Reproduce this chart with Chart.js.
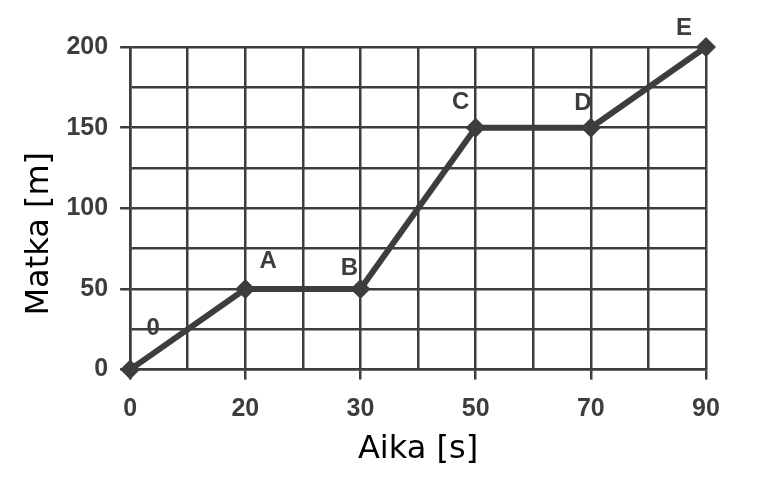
<!DOCTYPE html>
<html>
<head>
<meta charset="utf-8">
<script src="https://cdn.jsdelivr.net/npm/chart.js@4.4.1/dist/chart.umd.min.js"></script>
<style>
  html, body { margin: 0; padding: 0; background: #ffffff; }
  #wrap { width: 781px; height: 485px; }
</style>
</head>
<body>
<div id="wrap"><canvas id="c" width="781" height="485"></canvas></div>
<script>
// ---- data ----
const timeLabels = ['0', '20', '30', '50', '70', '90'];   // x tick labels (s)
const distances = [0, 50, 50, 150, 150, 200];             // distance (m)
const pointNames = ['0', 'A', 'B', 'C', 'D', 'E'];         // point letters
const yTickLabels = [0, 50, 100, 150, 200];

// ---- styles (label offsets in px relative to each point) ----
const nameOffsets = [[23, -41], [23, -28], [-11, -21], [-15, -25], [-8, -24], [-22, -19]];
const INK = '#3d3d3d';

const points = distances.map((d, i) => ({ x: i * 2, y: d }));

const pointNamePlugin = {
  id: 'pointNames',
  afterDatasetsDraw(chart) {
    const { ctx, scales } = chart;
    ctx.save();
    ctx.font = 'bold 24px "Liberation Sans", Arial, sans-serif';
    ctx.fillStyle = INK;
    ctx.textAlign = 'center';
    ctx.textBaseline = 'middle';
    points.forEach((p, i) => {
      const px = scales.x.getPixelForValue(p.x) + nameOffsets[i][0];
      const py = scales.y.getPixelForValue(p.y) + nameOffsets[i][1];
      ctx.fillText(pointNames[i], px, py);
    });
    ctx.restore();
  }
};

new Chart(document.getElementById('c'), {
  type: 'line',
  data: {
    datasets: [{
      data: points,
      borderColor: INK,
      backgroundColor: INK,
      borderWidth: 6,
      pointStyle: 'rectRot',
      pointRadius: 10,
      pointBackgroundColor: INK,
      pointBorderColor: INK,
      pointBorderWidth: 0,
      tension: 0,
      clip: false
    }]
  },
  options: {
    responsive: false,
    animation: false,
    layout: { padding: { left: 12, right: 75, top: 47, bottom: 9 } },
    plugins: { legend: { display: false }, tooltip: { enabled: false } },
    scales: {
      x: {
        type: 'linear',
        min: 0, max: 10,
        ticks: {
          stepSize: 1,
          autoSkip: false,
          maxRotation: 0,
          padding: 17,
          color: INK,
          font: { family: '"Liberation Sans", Arial, sans-serif', size: 25, weight: 'bold', lineHeight: 1 },
          callback: (v) => (v % 2 === 0 ? timeLabels[v / 2] : '')
        },
        grid: {
          color: INK,
          lineWidth: 2.5,
          tickLength: 10,
          tickColor: (c) => (c.tick && c.tick.value % 2 === 0 ? INK : 'rgba(0,0,0,0)')
        },
        border: { color: INK, width: 2.5 },
        title: {
          display: true,
          text: 'Aika [s]',
          color: '#000000',
          font: { family: '"DejaVu Sans", sans-serif', size: 32, weight: 'normal' },
          padding: { top: -8, bottom: 7 }
        }
      },
      y: {
        min: 0, max: 200,
        ticks: {
          stepSize: 25,
          padding: 12,
          color: INK,
          font: { family: '"Liberation Sans", Arial, sans-serif', size: 25, weight: 'bold' },
          callback: (v) => (yTickLabels.includes(v) ? String(v) : '')
        },
        grid: {
          color: INK,
          lineWidth: 2.5,
          tickLength: 10,
          tickColor: (c) => (c.tick && yTickLabels.includes(c.tick.value) ? INK : 'rgba(0,0,0,0)')
        },
        border: { color: INK, width: 2.5 },
        title: {
          display: true,
          text: 'Matka [m]\u00a0\u00a0\u00a0\u00a0\u00a0',
          color: '#000000',
          font: { family: '"DejaVu Sans", sans-serif', size: 32, weight: 'normal' },
          padding: { top: 8, bottom: -4 }
        }
      }
    }
  },
  plugins: [pointNamePlugin]
});
</script>
</body>
</html>
